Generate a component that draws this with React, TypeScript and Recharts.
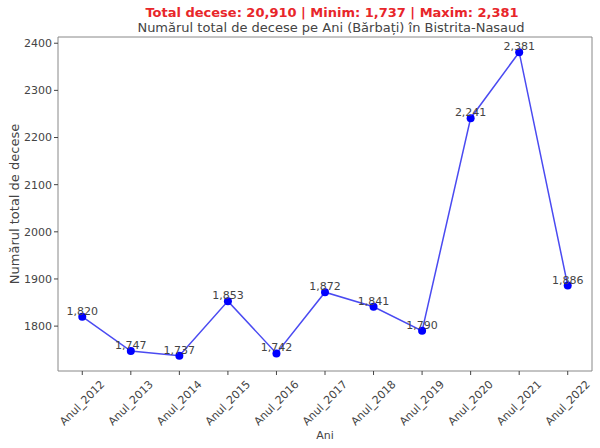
import React from 'react';
import { LineChart, Line, XAxis, YAxis, LabelList, ReferenceLine } from 'recharts';

const years = ['Anul_2012', 'Anul_2013', 'Anul_2014', 'Anul_2015', 'Anul_2016', 'Anul_2017', 'Anul_2018', 'Anul_2019', 'Anul_2020', 'Anul_2021', 'Anul_2022'];
const deaths = [1820, 1747, 1737, 1853, 1742, 1872, 1841, 1790, 2241, 2381, 1886];
const yTicks = [1800, 1900, 2000, 2100, 2200, 2300, 2400];

const data = years.map((year, i) => ({ idx: i, year, value: deaths[i] }));

const total = deaths.reduce((a, b) => a + b, 0);
const minVal = Math.min(...deaths);
const maxVal = Math.max(...deaths);
const fmt = (n: number) => n.toLocaleString('en-US');

// matplotlib style 5% margins
const pad = (maxVal - minVal) * 0.05;
const yDomain = [minVal - pad, maxVal + pad];
const xDomain = [-0.5, years.length - 0.5];
const font = 'DejaVu Sans, sans-serif';
const textColor = '#444';
const frame = '#888';

const XTick = (props: any) => {
  const { x, y, payload } = props;
  const cy = y + 26;
  return (
    <text
      x={x}
      y={cy}
      transform={`rotate(-45, ${x}, ${cy})`}
      textAnchor="middle"
      dominantBaseline="central"
      fontSize={11}
      fill={textColor}
      fontFamily={font}
    >
      {years[payload.value]}
    </text>
  );
};

const ValueLabel = (props: any) => {
  const { x, y, value } = props;
  return (
    <text x={x} y={y - 2} textAnchor="middle" fontSize={11} fill={textColor} fontFamily={font}>
      {fmt(value)}
    </text>
  );
};

const App: React.FC = () => {
  return (
    <div style={{ position: 'absolute', left: 0, top: 0, width: 600, height: 448, background: '#fff' }}>
      <LineChart
        width={600}
        height={448}
        data={data}
        margin={{ top: 37, right: 8, left: 0, bottom: 0 }}
        style={{ position: 'absolute', left: 0, top: 0 }}
      >
        <XAxis
          dataKey="idx"
          type="number"
          domain={xDomain}
          ticks={years.map((_, i) => i)}
          interval={0}
          height={77}
          tick={<XTick />}
          tickSize={4}
          stroke={frame}
          tickLine={{ stroke: '#444' }}
          allowDataOverflow
        />
        <YAxis
          type="number"
          domain={yDomain}
          ticks={yTicks}
          width={58}
          allowDataOverflow
          tickSize={4}
          stroke={frame}
          tickLine={{ stroke: '#444' }}
          tick={{ fontSize: 11, fill: textColor, fontFamily: font }}
        />
        <ReferenceLine y={yDomain[1]} stroke={frame} ifOverflow="visible" />
        <ReferenceLine x={xDomain[1]} stroke={frame} ifOverflow="visible" />
        <Line
          type="linear"
          dataKey="value"
          stroke="#2a2aee"
          strokeOpacity={0.85}
          strokeWidth={1.5}
          dot={{ r: 4, fill: '#0000ff', stroke: '#0000ff', strokeWidth: 0, fillOpacity: 1 }}
          isAnimationActive={false}
        >
          <LabelList dataKey="value" content={<ValueLabel />} />
        </Line>
      </LineChart>
      <svg width={600} height={448} style={{ position: 'absolute', left: 0, top: 0, pointerEvents: 'none' }}>
        <text x={332} y={17} textAnchor="middle" fontSize={13} fontWeight="bold" fill="#e8262a" fontFamily={font}>
          {`Total decese: ${fmt(total)} | Minim: ${fmt(minVal)} | Maxim: ${fmt(maxVal)}`}
        </text>
        <text x={331} y={32} textAnchor="middle" fontSize={13} fill={textColor} fontFamily={font}>
          Numărul total de decese pe Ani (Bărbați) în Bistrita-Nasaud
        </text>
        <text
          x={14}
          y={204}
          transform="rotate(-90, 14, 204)"
          textAnchor="middle"
          dominantBaseline="central"
          fontSize={13}
          fill={textColor}
          fontFamily={font}
        >
          Numărul total de decese
        </text>
        <text x={325} y={439} textAnchor="middle" fontSize={11} fill={textColor} fontFamily={font}>
          Ani
        </text>
      </svg>
    </div>
  );
};

export default App;
